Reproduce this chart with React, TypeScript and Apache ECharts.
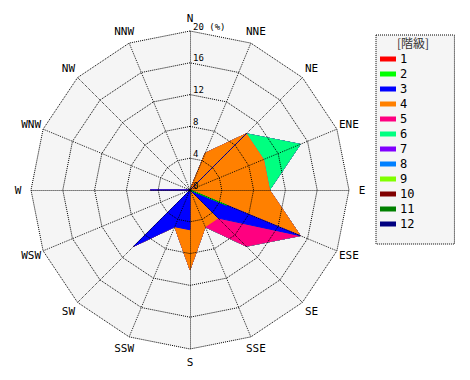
import React, { useEffect, useRef } from 'react';
import * as echarts from 'echarts';

// Compass directions, clockwise from north
const directions = ['N', 'NNE', 'NE', 'ENE', 'E', 'ESE', 'SE', 'SSE', 'S', 'SSW', 'SW', 'WSW', 'W', 'WNW', 'NW', 'NNW'];
const grades = ['1', '2', '3', '4', '5', '6', '7', '8', '9', '10', '11', '12'];
const gradeColors = ['#FF0000', '#00FF00', '#0000FF', '#FF8000', '#FF0080', '#00FF80', '#8000FF', '#0080FF', '#80FF00', '#800000', '#008000', '#000080'];
const radialMax = 20;
const radialSplits = 5;

// Frequency (%) per grade, by direction (N, NNE, NE, ... NNW)
const grade1 = [0, 0, 0, 0, 0, 0, 0, 0, 0, 0, 0, 0, 0, 0, 0, 0];
const grade2 = [0, 0, 0, 0, 0, 5, 0, 0, 0, 0, 0, 0, 0, 0, 0, 0];
const grade3 = [0, 0, 10, 0, 0, 10, 5, 0, 5, 5, 10, 0, 5, 0, 0, 0];
const grade4 = [0, 5, 0, 10, 10, 0, 0, 5, 5, 0, 0, 0, 0, 0, 0, 0];
const grade5 = [0, 0, 0, 0, 0, 0, 5, 0, 0, 0, 0, 0, 0, 0, 0, 0];
const grade6 = [0, 0, 0, 5, 0, 0, 0, 0, 0, 0, 0, 0, 0, 0, 0, 0];
const grade7 = [0, 0, 0, 0, 0, 0, 0, 0, 0, 0, 0, 0, 0, 0, 0, 0];
const grade8 = [0, 0, 0, 0, 0, 0, 0, 0, 0, 0, 0, 0, 0, 0, 0, 0];
const grade9 = [0, 0, 0, 0, 0, 0, 0, 0, 0, 0, 0, 0, 0, 0, 0, 0];
const grade10 = [0, 0, 0, 0, 0, 0, 0, 0, 0, 0, 0, 0, 0, 0, 0, 0];
const grade11 = [0, 0, 0, 0, 0, 0, 0, 0, 0, 0, 0, 0, 0, 0, 0, 0];
const grade12 = [0, 0, 0, 0, 0, 0, 0, 0, 0, 0, 0, 0, 0, 0, 0, 0];

const gradeValues = [grade1, grade2, grade3, grade4, grade5, grade6, grade7, grade8, grade9, grade10, grade11, grade12];

export default function App() {
  const ref = useRef<HTMLDivElement>(null);

  useEffect(() => {
    if (!ref.current) return;
    const chart = echarts.init(ref.current, null, { renderer: 'svg' });

    // radar places indicators counter-clockwise, so reorder: N, NNW, NW, ... NNE
    const order = directions.map((_, i) => (i === 0 ? 0 : directions.length - i));

    // cumulative (stacked) totals
    const cumulative: number[][] = [];
    gradeValues.forEach((vals, k) => {
      cumulative.push(vals.map((v, d) => v + (k > 0 ? cumulative[k - 1][d] : 0)));
    });

    const mono = 'DejaVu Sans Mono';

    const baseIndicator = order.map((i) => ({ name: directions[i], min: 0, max: radialMax }));
    const overlayIndicator = order.map((i, n) => {
      const ind: any = { name: directions[i], min: 0, max: radialMax };
      if (n === 0) {
        ind.axisLabel = {
          show: true,
          fontSize: 9,
          fontFamily: mono,
          color: '#000',
          margin: -3,
          align: 'left',
          verticalAlign: 'bottom',
          showMinLabel: true,
          formatter: (v: number) => (v === radialMax ? v + ' (%)' : String(v)),
        };
      }
      return ind;
    });

    const series: any[] = [];
    for (let k = grades.length - 1; k >= 0; k--) {
      series.push({
        type: 'radar',
        radarIndex: 0,
        name: grades[k],
        symbol: 'none',
        silent: true,
        color: gradeColors[k],
        itemStyle: { color: gradeColors[k] },
        lineStyle: { color: gradeColors[k], width: 1, opacity: 1 },
        areaStyle: { color: gradeColors[k], opacity: 1 },
        data: [{ name: grades[k], value: order.map((i) => cumulative[k][i]) }],
      });
    }

    const common = {
      center: [190, 190],
      radius: 159,
      startAngle: 90,
      shape: 'polygon',
      splitNumber: radialSplits,
      axisTick: { show: false },
    };

    chart.setOption({
      animation: false,
      backgroundColor: '#FFFFFF',
      title: {
        text: '[階級]',
        left: 413,
        top: 36,
        textAlign: 'center',
        padding: 0,
        textStyle: { fontSize: 12, fontWeight: 'normal', color: '#333', fontFamily: 'Noto Sans CJK JP' },
      },
      legend: {
        data: grades,
        orient: 'vertical',
        left: 376,
        top: 35,
        padding: [18, 40, 14, 4],
        itemWidth: 16,
        itemHeight: 5,
        itemGap: 3,
        icon: 'rect',
        selectedMode: false,
        backgroundColor: '#F5F5F5',
        borderColor: '#000',
        borderWidth: 1,
        borderType: 'dotted',
        textStyle: { fontSize: 12, color: '#000', fontFamily: mono, padding: [0, 0, 0, -1] },
      },
      radar: [
        {
          ...common,
          z: 0,
          indicator: baseIndicator,
          axisNameGap: 13,
          axisName: { color: '#000', fontSize: 11, fontFamily: mono, align: 'center', verticalAlign: 'middle' },
          axisLine: { show: false },
          splitLine: { show: false },
          splitArea: { show: true, areaStyle: { color: ['#F5F5F5'] } },
          axisLabel: { show: false },
        },
        {
          ...common,
          z: 3,
          indicator: overlayIndicator,
          axisName: { show: false },
          axisLine: { show: true, lineStyle: { color: '#000', type: [0.1, 1.9], width: 1 } },
          splitLine: { show: true, lineStyle: { color: '#000', type: 'dotted', width: 1 } },
          splitArea: { show: false },
          axisLabel: { show: false },
        },
      ],
      series,
    });

    return () => chart.dispose();
  }, []);

  return <div ref={ref} style={{ position: 'absolute', left: 0, top: 0, width: 470, height: 380 }} />;
}
